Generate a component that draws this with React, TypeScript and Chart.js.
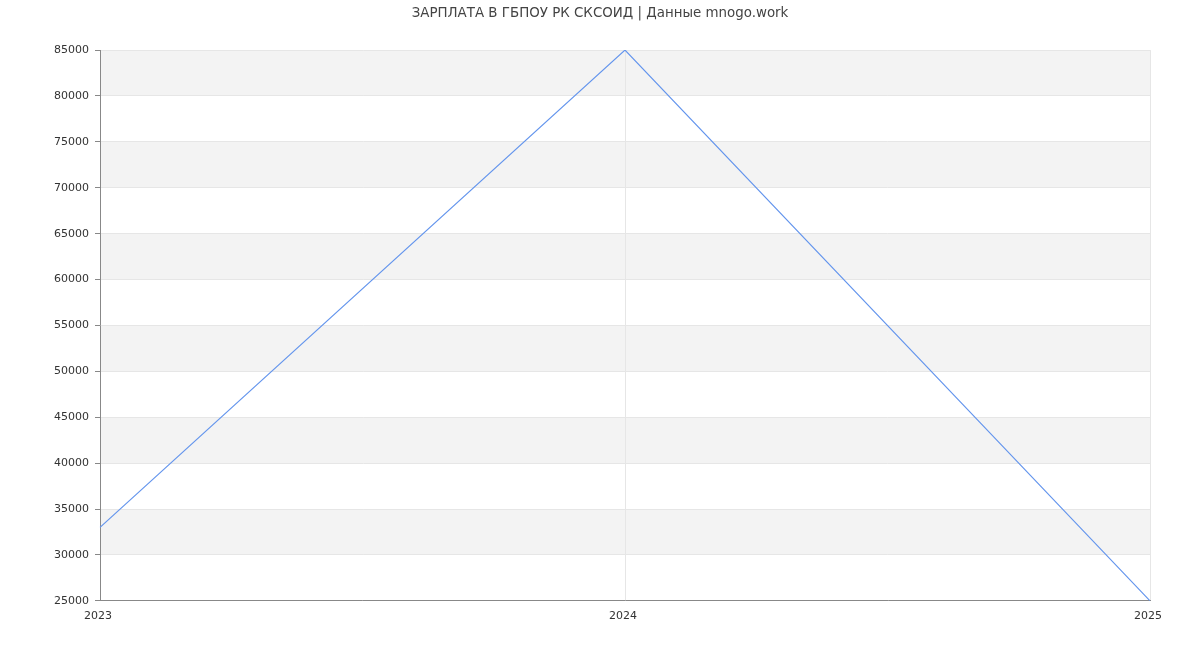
import React, { useEffect, useRef } from "react";
import { Chart, registerables } from "chart.js";

Chart.register(...registerables);

const TITLE = "ЗАРПЛАТА В ГБПОУ РК СКСОИД | Данные mnogo.work";
const years = ["2023", "2024", "2025"];
const salaries = [33000, 85000, 25000];
const yMin = 25000;
const yMax = 85000;
const yStep = 5000;

const bandsPlugin = {
  id: "bands",
  beforeDraw(chart: any) {
    const { ctx, chartArea, scales } = chart;
    const y = scales.y;
    ctx.save();
    ctx.fillStyle = "#f3f3f3";
    for (let v = yMin; v < yMax; v += yStep) {
      if (v % 10000 === 0) {
        const top = y.getPixelForValue(v + yStep);
        const bottom = y.getPixelForValue(v);
        ctx.fillRect(chartArea.left, top, chartArea.right - chartArea.left, bottom - top);
      }
    }
    ctx.restore();
  },
};

export default function App() {
  const ref = useRef<HTMLCanvasElement>(null);
  useEffect(() => {
    document.body.style.margin = "0";
    const chart = new Chart(ref.current!, {
      type: "line",
      data: {
        labels: years,
        datasets: [
          {
            data: salaries,
            borderColor: "rgb(100,149,237)",
            borderWidth: 1.2,
            pointRadius: 0,
            tension: 0,
            fill: false,
            yAxisID: "y",
          },
        ],
      },
      options: {
        animation: false,
        responsive: false,
        layout: { padding: { left: 0, right: 0, top: 0, bottom: 24 } },
        plugins: {
          legend: { display: false },
          tooltip: { enabled: false },
          title: {
            display: true,
            text: TITLE,
            color: "#444",
            font: { family: "DejaVu Sans", size: 13.4, weight: "normal" },
            padding: { top: 5, bottom: 29 },
          },
        },
        scales: {
          x: {
            offset: false,
            grid: { color: "#e6e6e6", tickLength: 6, tickColor: "transparent" },
            border: { color: "#888" },
            ticks: {
              color: "#333",
              font: { family: "DejaVu Sans", size: 11 },
              padding: 3,
              maxRotation: 0,
              labelOffset: -2,
            },
          },
          y: {
            position: "left",
            min: yMin,
            max: yMax,
            afterFit: (scale: any) => {
              scale.width = 100;
            },
            grid: { color: "#e6e6e6", tickLength: 5, tickColor: "#888" },
            border: { color: "#888" },
            ticks: {
              stepSize: yStep,
              color: "#333",
              font: { family: "DejaVu Sans", size: 11 },
              padding: 6,
              callback: (v: any) => String(v),
            },
          },
          spacer: {
            type: "linear",
            position: "right",
            min: yMin,
            max: yMax,
            afterFit: (scale: any) => {
              scale.width = 50;
            },
            grid: { display: false, drawTicks: false },
            border: { display: false },
            ticks: { display: false },
          },
        },
      },
      plugins: [bandsPlugin],
    });
    return () => chart.destroy();
  }, []);
  return <canvas ref={ref} width={1200} height={650} style={{ display: "block" }} />;
}
